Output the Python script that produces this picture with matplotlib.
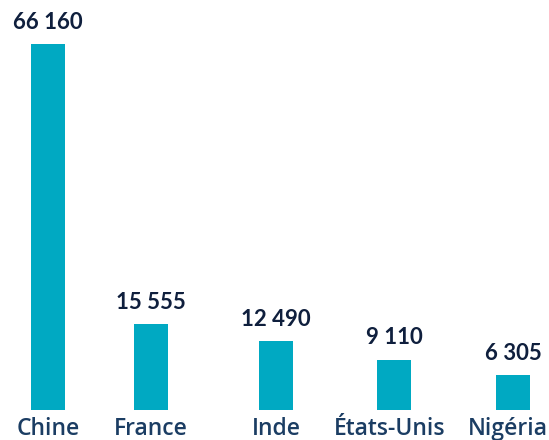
import matplotlib
matplotlib.use("Agg")
import matplotlib.pyplot as plt

categories = ["Chine", "France", "Inde", "États-Unis", "Nigéria"]
values = [66160, 15555, 12490, 9110, 6305]
value_labels = ["66 160", "15 555", "12 490", "9 110", "6 305"]

# layout (pixel-like positions across the figure width)
positions = [48, 151, 276, 394, 513]
label_nudge = [0, 0, 0, -3, -4]  # points
bar_width = 34

fig = plt.figure(figsize=(5.49, 4.40), dpi=100)
ax = fig.add_axes([0, 30/440, 1, 410/440])
bars = ax.bar(positions, values, width=bar_width, color="#00a9c2")
ax.set_xlim(0, 549)
ax.set_ylim(0, 66160 * 410 / 366)
for s in ax.spines.values():
    s.set_visible(False)
ax.set_yticks([])
ax.set_xticks([])

for p, cat, dx in zip(positions, categories, label_nudge):
    ax.annotate(cat, (p, 0), xytext=(dx, -5), textcoords="offset points",
                ha="center", va="top", fontsize=16.5, color="#1b3d63",
                family="Open Sans", fontweight="semibold", annotation_clip=False)

for b, lab in zip(bars, value_labels):
    ax.annotate(lab, (b.get_x() + b.get_width()/2, b.get_height()),
                xytext=(0, 8), textcoords="offset points",
                ha="center", va="bottom", fontsize=16, fontweight="bold",
                family="Lato", color="#0f1f3d")

fig.savefig("out.png", dpi=100)
